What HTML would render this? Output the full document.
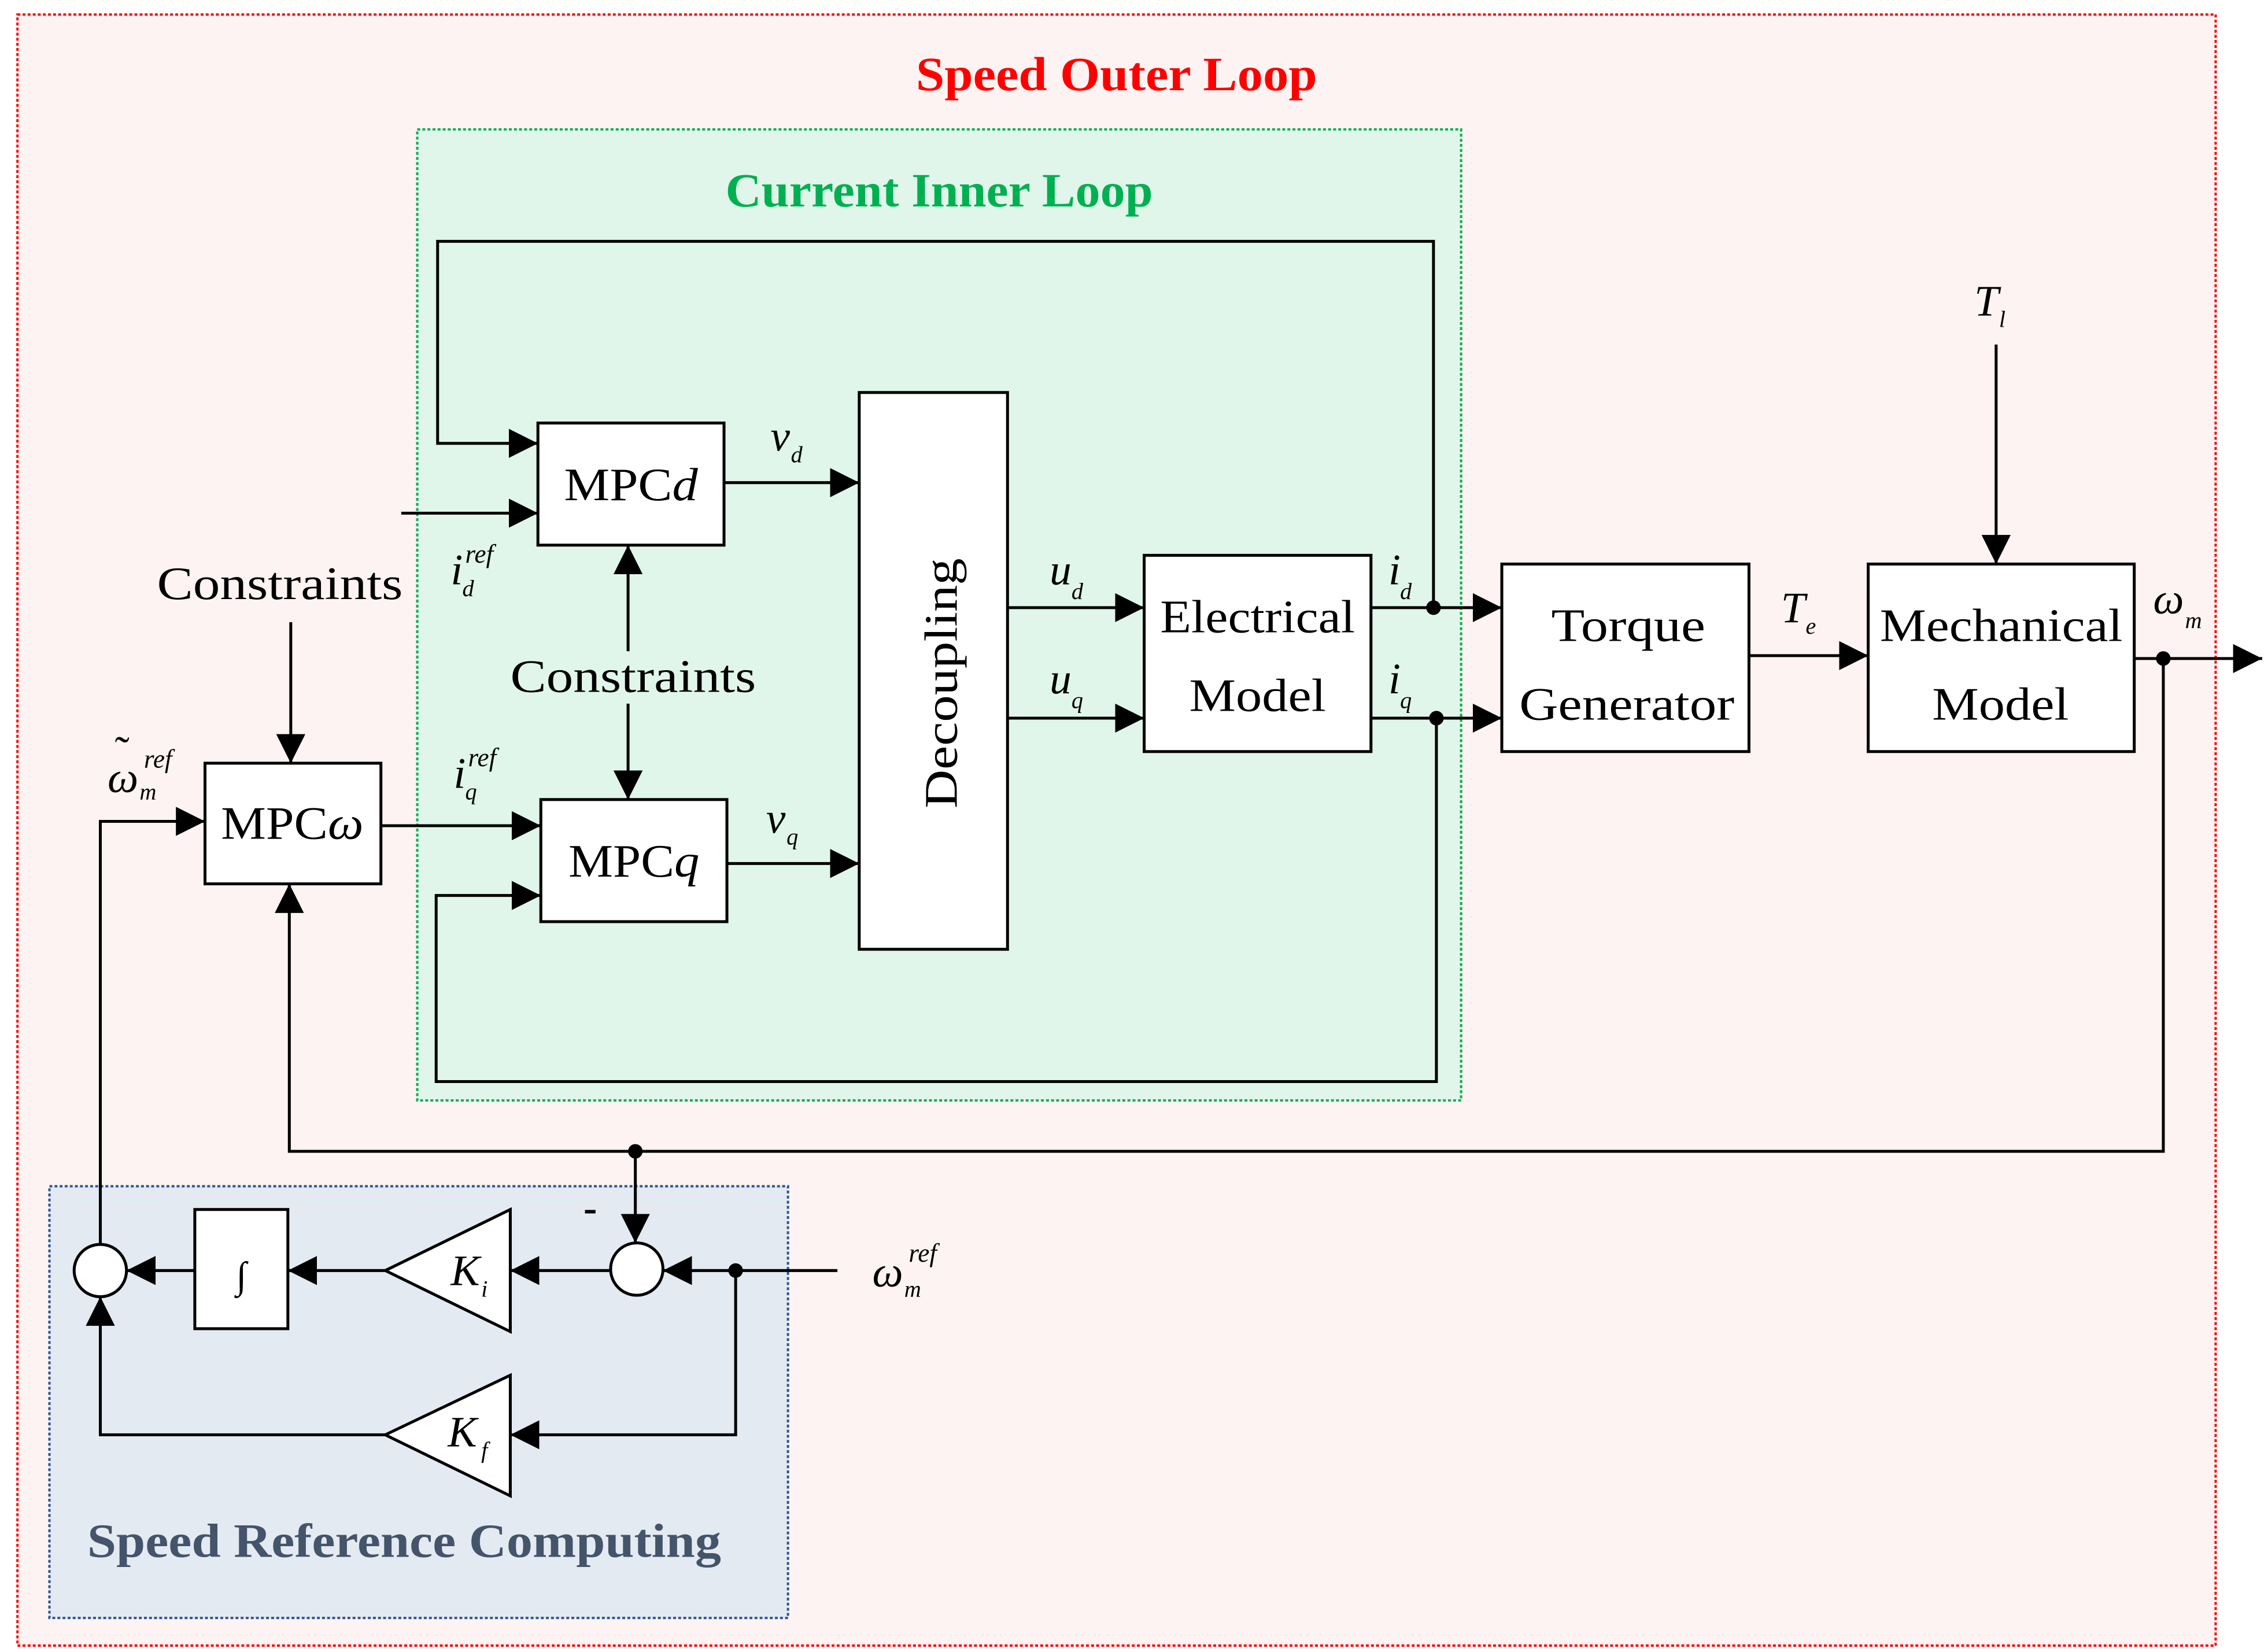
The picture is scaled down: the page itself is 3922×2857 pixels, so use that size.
<!DOCTYPE html>
<html><head><meta charset="utf-8"><style>html,body{margin:0;padding:0;background:#fff}svg{display:block}</style></head><body>
<svg width="3922" height="2857" viewBox="0 0 1560 1136.4" xmlns="http://www.w3.org/2000/svg" font-family="Liberation Serif, serif">
<defs>
<marker id="a" viewBox="0 0 10 10" refX="10" refY="5" markerWidth="20" markerHeight="20" markerUnits="userSpaceOnUse" orient="auto"><path d="M0,0L10,5L0,10z" fill="#000"/></marker>
</defs>
<rect x="12" y="10" width="1512" height="1122" fill="#fdf3f2" stroke="#f00" stroke-width="1.6" stroke-dasharray="2,1.5"/>
<rect x="287" y="89" width="718" height="668" fill="#e0f6ea" stroke="#00b050" stroke-width="1.6" stroke-dasharray="2,1.5"/>
<rect x="34" y="816" width="508" height="297" fill="#e3eaf2" stroke="#2e5597" stroke-width="1.6" stroke-dasharray="2,1.5"/>
<text x="630" y="62" textLength="276" lengthAdjust="spacingAndGlyphs" font-size="33" font-weight="bold" fill="#f00">Speed Outer Loop</text>
<text x="499" y="142" textLength="294" lengthAdjust="spacingAndGlyphs" font-size="33" font-weight="bold" fill="#00b050">Current Inner Loop</text>
<text x="60" y="1071" textLength="436" lengthAdjust="spacingAndGlyphs" font-size="33" font-weight="bold" fill="#44546a">Speed Reference Computing</text>
<g fill="#fff" stroke="#000" stroke-width="2">
<rect x="370" y="291" width="128" height="84"/>
<rect x="372" y="550" width="128" height="84"/>
<rect x="141" y="525" width="121" height="83"/>
<rect x="591" y="270" width="102" height="383"/>
<rect x="787" y="382" width="156" height="135"/>
<rect x="1033" y="388" width="170" height="129"/>
<rect x="1285" y="388" width="183" height="129"/>
<rect x="134" y="832" width="64" height="82"/>
<path d="M265,874L351,832L351,916z"/>
<path d="M265,987L351,946L351,1029z"/>
<circle cx="69" cy="874" r="18"/>
<circle cx="438" cy="873" r="18"/>
</g>
<g fill="none" stroke="#000" stroke-width="2" marker-end="url(#a)">
<path d="M986,418V166H301V305H370"/>
<path d="M276,353H370"/>
<path d="M498,332H591"/>
<path d="M693,418H787"/>
<path d="M693,494H787"/>
<path d="M943,418H1033"/>
<path d="M943,494H1033"/>
<path d="M988,494V744H300V616H372"/>
<path d="M500,594H591"/>
<path d="M1203,451H1285"/>
<path d="M1373,237V388"/>
<path d="M1468,453H1556"/>
<path d="M1488,453V792H199V608"/>
<path d="M437,792V855"/>
<path d="M262,568H372"/>
<path d="M432,448V375"/>
<path d="M432,484V550"/>
<path d="M200,428V525"/>
<path d="M69,856V565H141"/>
<path d="M576,874H456"/>
<path d="M506,874V987H351"/>
<path d="M420,874H351"/>
<path d="M265,874H198"/>
<path d="M134,874H87"/>
<path d="M265,987H69V892"/>
</g>
<g fill="#000"><circle cx="986" cy="418" r="5"/><circle cx="988" cy="494" r="5"/><circle cx="1488" cy="453" r="5"/><circle cx="437" cy="792" r="5"/><circle cx="506" cy="874" r="5"/></g>
<g font-size="32" fill="#000">
<text x="388" y="344" textLength="92" lengthAdjust="spacingAndGlyphs">MPC<tspan font-style="italic">d</tspan></text>
<text x="391" y="603" textLength="90" lengthAdjust="spacingAndGlyphs">MPC<tspan font-style="italic">q</tspan></text>
<text x="152" y="577" textLength="98" lengthAdjust="spacingAndGlyphs">MPC<tspan font-style="italic">ω</tspan></text>
<text x="798" y="435" textLength="134" lengthAdjust="spacingAndGlyphs">Electrical</text>
<text x="818" y="489" textLength="94" lengthAdjust="spacingAndGlyphs">Model</text>
<text x="1067" y="441" textLength="106" lengthAdjust="spacingAndGlyphs">Torque</text>
<text x="1045" y="495" textLength="148" lengthAdjust="spacingAndGlyphs">Generator</text>
<text x="1293" y="441" textLength="167" lengthAdjust="spacingAndGlyphs">Mechanical</text>
<text x="1329" y="495" textLength="94" lengthAdjust="spacingAndGlyphs">Model</text>
<text x="108" y="412" textLength="169" lengthAdjust="spacingAndGlyphs">Constraints</text>
<text x="351" y="476" textLength="169" lengthAdjust="spacingAndGlyphs">Constraints</text>
<text transform="translate(658,556) rotate(-90)" textLength="172" lengthAdjust="spacingAndGlyphs">Decoupling</text>
<text x="166" y="886" font-size="26" text-anchor="middle">∫</text>
</g>
<g font-style="italic" fill="#000" font-size="30">
<text x="310" y="884">K</text><text x="331" y="892" font-size="16">i</text>
<text x="308" y="995">K</text><text x="331" y="1003" font-size="16">f</text>
<text x="530" y="310">v</text><text x="544" y="318" font-size="16">d</text>
<text x="527" y="573">v</text><text x="541" y="581" font-size="16">q</text>
<text x="722" y="402">u</text><text x="737" y="412" font-size="16">d</text>
<text x="722" y="477">u</text><text x="737" y="487" font-size="16">q</text>
<text x="955" y="402">i</text><text x="963" y="412" font-size="16">d</text>
<text x="955" y="477">i</text><text x="963" y="487" font-size="16">q</text>
<text x="1225" y="428">T</text><text x="1242" y="436" font-size="16">e</text>
<text x="1358" y="217">T</text><text x="1375" y="225" font-size="16">l</text>
<text x="1481" y="422">ω</text><text x="1503" y="432" font-size="16">m</text>
<text x="310" y="402">i</text><text x="320" y="387" font-size="18">ref</text><text x="318" y="410" font-size="16">d</text>
<text x="312" y="542">i</text><text x="322" y="527" font-size="18">ref</text><text x="320" y="550" font-size="16">q</text>
<text x="74" y="545">ω</text><text x="79" y="527" font-style="normal">˜</text><text x="99" y="528" font-size="18">ref</text><text x="96" y="550" font-size="16">m</text>
<text x="600" y="885">ω</text><text x="625" y="868" font-size="18">ref</text><text x="622" y="892" font-size="16">m</text>
</g>
<text x="406" y="840" font-size="28" font-weight="bold" text-anchor="middle">-</text>
</svg>
</body></html>
